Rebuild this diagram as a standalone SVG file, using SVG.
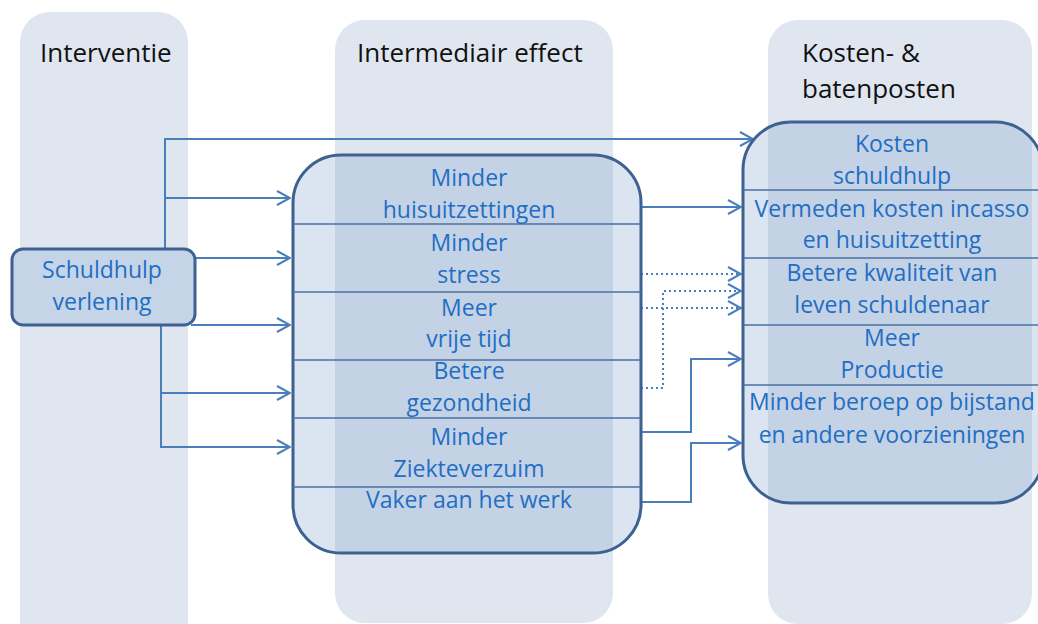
<svg xmlns="http://www.w3.org/2000/svg" width="1038" height="624" viewBox="0 0 1038 624">
<defs>
<style>
.col{fill:#dfe6ef}
.title{font-family:"Open Sans","Liberation Sans",sans-serif;font-size:26px;fill:#111}
.t{font-family:"Open Sans","Liberation Sans",sans-serif;font-size:23px;fill:#1f6ec4;text-anchor:middle}
.box{fill:#87a5d0;fill-opacity:0.3;stroke:#3d6191;stroke-width:3}
.div{stroke:#4a70a6;stroke-width:1.5;fill:none}
.con{fill:none;stroke:#4a7ebb;stroke-width:2;marker-end:url(#arr)}
.dot{stroke-dasharray:2 3}
</style>
<marker id="arr" markerUnits="userSpaceOnUse" viewBox="0 0 15 16" refX="14" refY="8" markerWidth="15" markerHeight="16" orient="auto">
<path d="M1,1 L14,8 L1,15" fill="none" stroke="#4a7ebb" stroke-width="2"/>
</marker>
</defs>
<rect width="1038" height="624" fill="#fff"/>
<g id="columns">
<rect class="col" x="20" y="12" width="168" height="640" rx="30"/>
<rect class="col" x="335" y="20" width="278" height="603" rx="30"/>
<rect class="col" x="768" y="20" width="264" height="604" rx="30"/>
</g>
<g id="titles">
<text class="title" x="40" y="62">Interventie</text>
<text class="title" x="357" y="62">Intermediair effect</text>
<text class="title" x="802" y="62">Kosten- &amp;</text>
<text class="title" x="802" y="98">batenposten</text>
</g>
<g id="connectors">
<path class="con" d="M165,249 V139 H753"/>
<path class="con" d="M165,198 H290"/>
<path class="con" d="M195,258 H290"/>
<path class="con" d="M191,325 H290"/>
<path class="con" d="M161,326 V447 H290"/>
<path class="con" d="M161,393 H290"/>
<path class="con" d="M641,207 H741"/>
<path class="con dot" d="M641,274 H741"/>
<path class="con dot" d="M641,308 H741"/>
<path class="con dot" d="M641,388 H663 V291 H741"/>
<path class="con" d="M641,432 H691 V359 H741"/>
<path class="con" d="M641,502 H691 V443 H741"/>
</g>
<g id="node-schuldhulp">
<rect x="12" y="249" width="183" height="76" rx="11" fill="#c5d4e7" stroke="#3d6191" stroke-width="3"/>
<text class="t" x="102" y="278">Schuldhulp</text>
<text class="t" x="102" y="310">verlening</text>
</g>
<g id="node-intermediair">
<rect class="box" x="293" y="155" width="348" height="398" rx="48"/>
<line class="div" x1="293" y1="224" x2="641" y2="224"/>
<line class="div" x1="293" y1="292" x2="641" y2="292"/>
<line class="div" x1="293" y1="360" x2="641" y2="360"/>
<line class="div" x1="293" y1="418" x2="641" y2="418"/>
<line class="div" x1="293" y1="487" x2="641" y2="487"/>
<text class="t" x="469" y="186">Minder</text>
<text class="t" x="469" y="218">huisuitzettingen</text>
<text class="t" x="469" y="251">Minder</text>
<text class="t" x="469" y="283">stress</text>
<text class="t" x="469" y="316">Meer</text>
<text class="t" x="469" y="347">vrije tijd</text>
<text class="t" x="469" y="379">Betere</text>
<text class="t" x="469" y="411">gezondheid</text>
<text class="t" x="469" y="445">Minder</text>
<text class="t" x="469" y="477">Ziekteverzuim</text>
<text class="t" x="469" y="508">Vaker aan het werk</text>
</g>
<g id="node-kosten">
<rect class="box" x="743" y="122" width="300" height="381" rx="48"/>
<line class="div" x1="743" y1="190" x2="1038" y2="190"/>
<line class="div" x1="743" y1="258" x2="1038" y2="258"/>
<line class="div" x1="743" y1="325" x2="1038" y2="325"/>
<line class="div" x1="743" y1="385" x2="1038" y2="385"/>
<text class="t" x="892" y="152">Kosten</text>
<text class="t" x="892" y="184">schuldhulp</text>
<text class="t" x="892" y="217">Vermeden kosten incasso</text>
<text class="t" x="892" y="248">en huisuitzetting</text>
<text class="t" x="892" y="281">Betere kwaliteit van</text>
<text class="t" x="892" y="313">leven schuldenaar</text>
<text class="t" x="892" y="346">Meer</text>
<text class="t" x="892" y="378">Productie</text>
<text class="t" x="892" y="410">Minder beroep op bijstand</text>
<text class="t" x="892" y="443">en andere voorzieningen</text>
</g>
</svg>
